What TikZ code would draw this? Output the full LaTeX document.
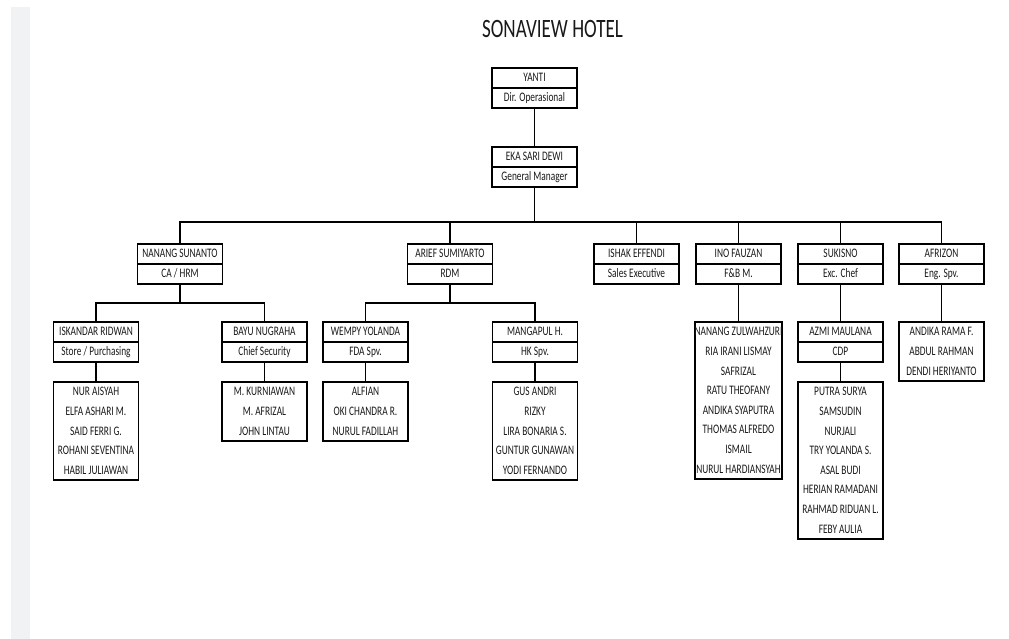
\documentclass[tikz,border=0pt]{standalone}
\usepackage{fontspec}
\setmainfont{Carlito}[FakeStretch=0.72]
\usepackage{tikz}
\usetikzlibrary{positioning}

\definecolor{stripgray}{RGB}{241,242,244}
\definecolor{inkgray}{RGB}{25,25,25}

\tikzset{
  namebox/.style={draw, line width=1.9pt, minimum width=85pt, minimum height=20pt,
    inner sep=0pt, outer sep=0pt, anchor=north, text=inkgray,
    font=\fontsize{13}{15}\selectfont, text height=8.8pt, text depth=2.4pt},
  staffbox/.style={draw, line width=1.9pt, minimum width=85pt, minimum height=#1*19.6pt,
    inner sep=0pt, outer sep=0pt, anchor=north, align=center, text=inkgray,
    font=\fontsize{13}{19.6}\selectfont},
  link/.style={line width=1.9pt, line cap=rect}
}

\begin{document}
\begin{tikzpicture}[x=1pt, y=-1pt]
        \useasboundingbox (0,0) rectangle (1009,639);
        \fill[stripgray] (11,7) rectangle (30,639);

        % Title
        \node[font=\fontsize{26.5}{30}\selectfont, text=inkgray] (title) at (552.5,29) {SONAVIEW HOTEL};

        % Top management
        \node[namebox] (dir) at (534.5,68) {YANTI};
        \node[namebox, below=0pt of dir] (dirR) {Dir. Operasional};
        \node[namebox] (gm) at (534.5,147) {EKA SARI DEWI};
        \node[namebox, below=0pt of gm] (gmR) {General Manager};
        \draw[link] (dirR) -- (gm);

        % Department heads
        \coordinate (bus1) at (534.5,222);
        \node[namebox] (hrm) at (180,244) {NANANG SUNANTO};
        \node[namebox, below=0pt of hrm] (hrmR) {CA / HRM};
        \node[namebox] (rdm) at (450,244) {ARIEF SUMIYARTO};
        \node[namebox, below=0pt of rdm] (rdmR) {RDM};
        \node[namebox] (sales) at (636.5,244) {ISHAK EFFENDI};
        \node[namebox, below=0pt of sales] (salesR) {Sales Executive};
        \node[namebox] (fnb) at (738.5,244) {INO FAUZAN};
        \node[namebox, below=0pt of fnb] (fnbR) {F\&B M.};
        \node[namebox] (chef) at (840.5,244) {SUKISNO};
        \node[namebox, below=0pt of chef] (chefR) {Exc. Chef};
        \node[namebox] (eng) at (941.5,244) {AFRIZON};
        \node[namebox, below=0pt of eng] (engR) {Eng. Spv.};
        \draw[link] (gmR) -- (bus1);
        \draw[link] (hrm.north |- bus1) -- (eng.north |- bus1);
        \foreach \n in {hrm, rdm, sales, fnb, chef, eng}
          \draw[link] (\n.north) -- (\n.north |- bus1);

        % CA / HRM branch
        \coordinate (bus2) at (180,303);
        \node[namebox] (store) at (96,322) {ISKANDAR RIDWAN};
        \node[namebox, below=0pt of store] (storeR) {Store / Purchasing};
        \node[namebox] (sec) at (264.5,322) {BAYU NUGRAHA};
        \node[namebox, below=0pt of sec] (secR) {Chief Security};
        \node[staffbox=5] (storeS) at (96,382) {NUR AISYAH\\ELFA ASHARI M.\\SAID FERRI G.\\ROHANI SEVENTINA\\HABIL JULIAWAN};
        \node[staffbox=3] (secS) at (264.5,382) {M. KURNIAWAN\\M. AFRIZAL\\JOHN LINTAU};
        \draw[link] (hrmR.south) -- (bus2);
        \draw[link] (store.north |- bus2) -- (sec.north |- bus2);
        \draw[link] (store.north) -- (store.north |- bus2);
        \draw[link] (sec.north) -- (sec.north |- bus2);
        \draw[link] (storeR) -- (storeS);
        \draw[link] (secR) -- (secS);

        % RDM branch
        \coordinate (bus3) at (450,303);
        \node[namebox] (fda) at (365.5,322) {WEMPY YOLANDA};
        \node[namebox, below=0pt of fda] (fdaR) {FDA Spv.};
        \node[namebox] (hk) at (535,322) {MANGAPUL H.};
        \node[namebox, below=0pt of hk] (hkR) {HK Spv.};
        \node[staffbox=3] (fdaS) at (365.5,382) {ALFIAN\\OKI CHANDRA R.\\NURUL FADILLAH};
        \node[staffbox=5] (hkS) at (535,382) {GUS ANDRI\\RIZKY\\LIRA BONARIA S.\\GUNTUR GUNAWAN\\YODI FERNANDO};
        \draw[link] (rdmR.south) -- (bus3);
        \draw[link] (fda.north |- bus3) -- (hk.north |- bus3);
        \draw[link] (fda.north) -- (fda.north |- bus3);
        \draw[link] (hk.north) -- (hk.north |- bus3);
        \draw[link] (fdaR) -- (fdaS);
        \draw[link] (hkR) -- (hkS);

        % F&B branch
        \node[staffbox=8] (fnbS) at (738.5,322) {NANANG ZULWAHZURI\\RIA IRANI LISMAY\\SAFRIZAL\\RATU THEOFANY\\ANDIKA SYAPUTRA\\THOMAS ALFREDO\\ISMAIL\\NURUL HARDIANSYAH};
        \draw[link] (fnbR) -- (fnbS);

        % Kitchen branch
        \node[namebox] (cdp) at (840.5,322) {AZMI MAULANA};
        \node[namebox, below=0pt of cdp] (cdpR) {CDP};
        \node[staffbox=8] (cdpS) at (840.5,382) {PUTRA SURYA\\SAMSUDIN\\NURJALI\\TRY YOLANDA S.\\ASAL BUDI\\HERIAN RAMADANI\\RAHMAD RIDUAN L.\\FEBY AULIA};
        \draw[link] (chefR) -- (cdp);
        \draw[link] (cdpR) -- (cdpS);

        % Engineering branch
        \node[staffbox=3] (engS) at (941.5,322) {ANDIKA RAMA F.\\ABDUL RAHMAN\\DENDI HERIYANTO};
        \draw[link] (engR) -- (engS);
\end{tikzpicture}
\end{document}
